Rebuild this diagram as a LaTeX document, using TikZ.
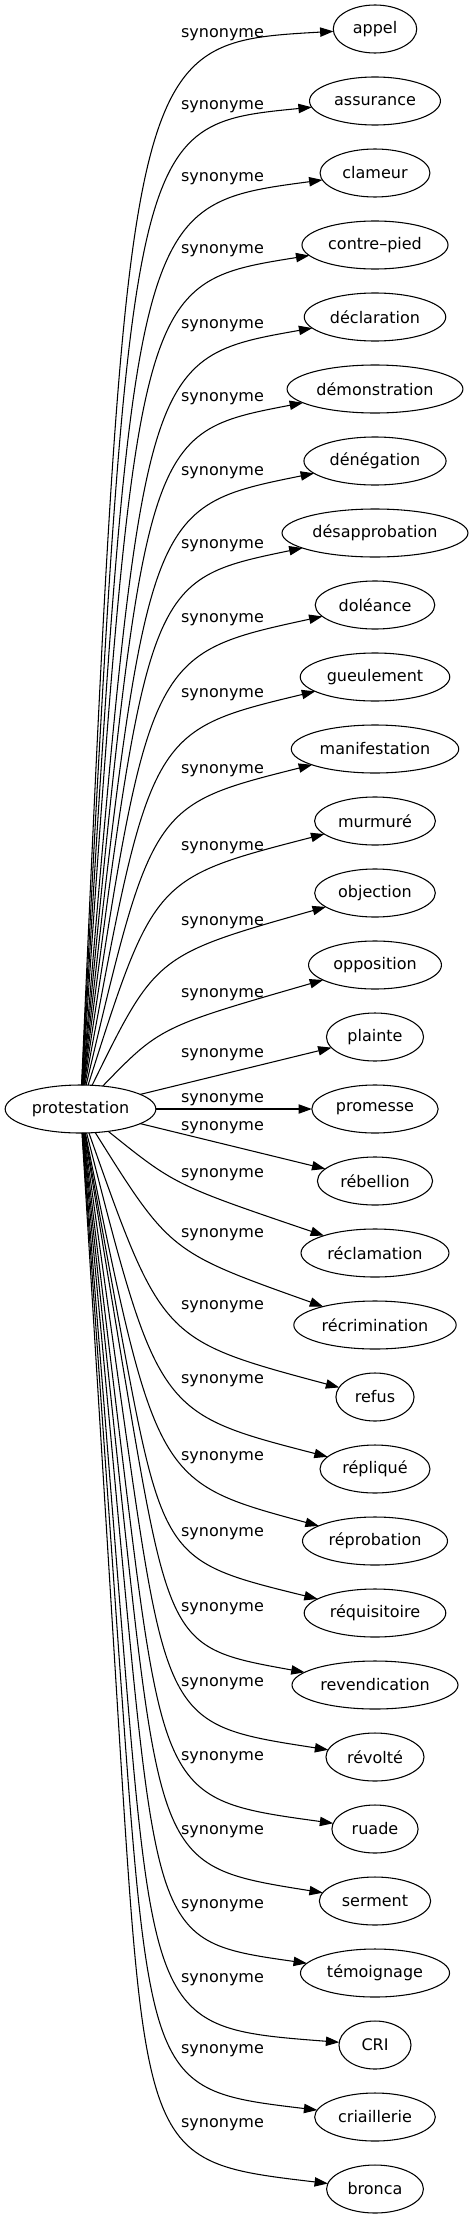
\documentclass[tikz,border=0pt]{standalone}
\usepackage{fontspec}
\setmainfont{DejaVu Sans}
\usepackage{tikz}
\usetikzlibrary{positioning,arrows.meta,shapes.geometric}

\begin{document}
\fontsize{12pt}{14.4pt}\selectfont
\begin{tikzpicture}[
    x=0.75pt, y=-0.75pt,
    node distance=18pt,
    word/.style={ellipse, draw, line width=0.8pt, inner sep=0pt, outer sep=0pt,
                 minimum height=36pt,
                 minimum width={max(54pt,1.27*(width("#1")+16pt))}},
    lbl/.style={inner sep=0pt},
    syn/.style={line width=0.8pt, -{Triangle[length=10pt,width=7pt]}}
]
\useasboundingbox (0,0) rectangle (475,2219);

% Headword
\node[word=protestation] (prot) at (80.5,1109) {protestation};

% Right column: synonyms
\node[word=appel] (appel) at (375,29) {appel};
\node[word=assurance, below=of appel] (assurance) {assurance};
\node[word=clameur, below=of assurance] (clameur) {clameur};
\node[word=contre–pied, below=of clameur] (contrepied) {contre–pied};
\node[word=déclaration, below=of contrepied] (declaration) {déclaration};
\node[word=démonstration, below=of declaration] (demonstration) {démonstration};
\node[word=dénégation, below=of demonstration] (denegation) {dénégation};
\node[word=désapprobation, below=of denegation] (desapprobation) {désapprobation};
\node[word=doléance, below=of desapprobation] (doleance) {doléance};
\node[word=gueulement, below=of doleance] (gueulement) {gueulement};
\node[word=manifestation, below=of gueulement] (manifestation) {manifestation};
\node[word=murmuré, below=of manifestation] (murmure) {murmuré};
\node[word=objection, below=of murmure] (objection) {objection};
\node[word=opposition, below=of objection] (opposition) {opposition};
\node[word=plainte, below=of opposition] (plainte) {plainte};
\node[word=promesse, below=of plainte] (promesse) {promesse};
\node[word=rébellion, below=of promesse] (rebellion) {rébellion};
\node[word=réclamation, below=of rebellion] (reclamation) {réclamation};
\node[word=récrimination, below=of reclamation] (recrimination) {récrimination};
\node[word=refus, below=of recrimination] (refus) {refus};
\node[word=répliqué, below=of refus] (replique) {répliqué};
\node[word=réprobation, below=of replique] (reprobation) {réprobation};
\node[word=réquisitoire, below=of reprobation] (requisitoire) {réquisitoire};
\node[word=revendication, below=of requisitoire] (revendication) {revendication};
\node[word=révolté, below=of revendication] (revolte) {révolté};
\node[word=ruade, below=of revolte] (ruade) {ruade};
\node[word=serment, below=of ruade] (serment) {serment};
\node[word=témoignage, below=of serment] (temoignage) {témoignage};
\node[word=CRI, below=of temoignage] (cri) {CRI};
\node[word=criaillerie, below=of cri] (criaillerie) {criaillerie};
\node[word=bronca, below=of criaillerie] (bronca) {bronca};

% Edge labels
\node[lbl] (syn0) at (222.5,35) {synonyme};
\node[lbl] (syn1) at (222.5,107) {synonyme};
\node[lbl] (syn2) at (222.5,179) {synonyme};
\node[lbl] (syn3) at (222.5,251) {synonyme};
\node[lbl] (syn4) at (222.5,326) {synonyme};
\node[lbl] (syn5) at (222.5,399) {synonyme};
\node[lbl] (syn6) at (222.5,473) {synonyme};
\node[lbl] (syn7) at (222.5,546) {synonyme};
\node[lbl] (syn8) at (222.5,620) {synonyme};
\node[lbl] (syn9) at (222.5,695) {synonyme};
\node[lbl] (syn10) at (222.5,771) {synonyme};
\node[lbl] (syn11) at (222.5,848) {synonyme};
\node[lbl] (syn12) at (222.5,923) {synonyme};
\node[lbl] (syn13) at (222.5,995) {synonyme};
\node[lbl] (syn14) at (222.5,1055) {synonyme};
\node[lbl] (syn15) at (222.5,1100) {synonyme};
\node[lbl] (syn16) at (222.5,1128) {synonyme};
\node[lbl] (syn17) at (222.5,1175) {synonyme};
\node[lbl] (syn18) at (222.5,1235) {synonyme};
\node[lbl] (syn19) at (222.5,1307) {synonyme};
\node[lbl] (syn20) at (222.5,1381) {synonyme};
\node[lbl] (syn21) at (222.5,1458) {synonyme};
\node[lbl] (syn22) at (222.5,1534) {synonyme};
\node[lbl] (syn23) at (222.5,1609) {synonyme};
\node[lbl] (syn24) at (222.5,1684) {synonyme};
\node[lbl] (syn25) at (222.5,1758) {synonyme};
\node[lbl] (syn26) at (222.5,1832) {synonyme};
\node[lbl] (syn27) at (222.5,1906) {synonyme};
\node[lbl] (syn28) at (222.5,1980) {synonyme};
\node[lbl] (syn29) at (222.5,2051) {synonyme};
\node[lbl] (syn30) at (222.5,2125) {synonyme};

% Edges
\draw[syn] (prot) .. controls (128,43) .. (appel);
\draw[syn] (prot) .. controls (131,125) .. (assurance);
\draw[syn] (prot) .. controls (134,205) .. (clameur);
\draw[syn] (prot) .. controls (137,283) .. (contrepied);
\draw[syn] (prot) .. controls (143,358) .. (declaration);
\draw[syn] (prot) .. controls (145,433) .. (demonstration);
\draw[syn] (prot) .. controls (147,507) .. (denegation);
\draw[syn] (prot) .. controls (148,580) .. (desapprobation);
\draw[syn] (prot) .. controls (149,654) .. (doleance);
\draw[syn] (prot) .. controls (150,731) .. (gueulement);
\draw[syn] (prot) .. controls (152,805) .. (manifestation);
\draw[syn] (prot) .. controls (154,878) .. (murmure);
\draw[syn] (prot) .. controls (156,955) .. (objection);
\draw[syn] (prot) .. controls (160,1027) .. (opposition);
\draw[syn] (prot) -- (plainte);
\draw[syn] (prot) -- (promesse);
\draw[syn] (prot) -- (rebellion);
\draw[syn] (prot) .. controls (175,1185) .. (reclamation);
\draw[syn] (prot) .. controls (170,1252) .. (recrimination);
\draw[syn] (prot) .. controls (162,1340) .. (refus);
\draw[syn] (prot) .. controls (158,1413) .. (replique);
\draw[syn] (prot) .. controls (156,1482) .. (reprobation);
\draw[syn] (prot) -- (117.8,1315.1) .. controls (163,1561) .. (requisitoire);
\draw[syn] (prot) -- (122.2,1362) .. controls (170,1648) .. (revendication);
\draw[syn] (prot) -- (122.3,1408.1) .. controls (167,1725) .. (revolte);
\draw[syn] (prot) -- (121.8,1452.6) .. controls (164,1800) .. (ruade);
\draw[syn] (prot) -- (120.6,1489.2) .. controls (161,1867) .. (serment);
\draw[syn] (prot) -- (120.7,1543.7) .. controls (158,1942) .. (temoignage);
\draw[syn] (prot) -- (120.3,1609.3) .. controls (154,2028) .. (cri);
\draw[syn] (prot) -- (119.4,1661.1) .. controls (150,2090) .. (criaillerie);
\draw[syn] (prot) -- (118.5,1722.9) .. controls (146,2162) .. (bronca);

\end{tikzpicture}
\end{document}
